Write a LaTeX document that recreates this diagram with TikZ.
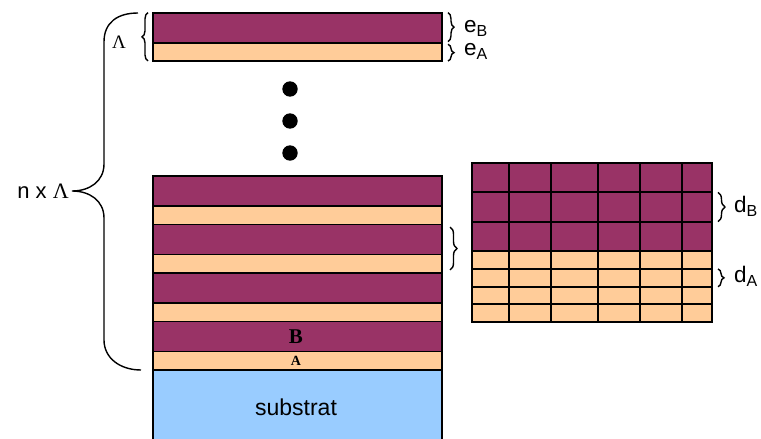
\documentclass[tikz,border=0pt]{standalone}
\usepackage{fontspec}
\setmainfont{Liberation Sans}
\newfontfamily\serifgr{Liberation Serif}
\usetikzlibrary{decorations.pathreplacing}
\definecolor{layerB}{HTML}{993366}
\definecolor{layerA}{HTML}{FFCC99}
\definecolor{substr}{HTML}{99CCFF}
\begin{document}
\begin{tikzpicture}[x=1pt,y=-1pt,
  layB/.style={fill=layerB,draw=black,line width=1.7pt},
  layA/.style={fill=layerA,draw=black,line width=1.7pt},
  gridline/.style={draw=black,line width=1.7pt},
  bracedeco/.style={decorate,decoration={brace,amplitude=#1},line width=1.4pt},
  lbl/.style={inner sep=0pt,font=\fontsize{22.5}{26}\selectfont},
  dotnode/.style={circle,fill=black,inner sep=0pt,minimum size=15.4pt},
]
\useasboundingbox (0,0) rectangle (761,439);

% substrate
\fill[substr] (153,370) rectangle (442,445);
\draw[line width=1.7pt] (153,445) -- (153,370) -- (442,370) -- (442,445);
\node[inner sep=0pt,anchor=base,font=\fontsize{23}{27}\selectfont] (substrat) at (296,415) {substrat};

% top period
\draw[layB] (153,12.7) rectangle (442,43.3);
\draw[layA] (153,43.3) rectangle (442,61);

% main stack
\foreach \i in {0,1,2,3}{
  \pgfmathsetmacro\ya{176+48.5*\i}
  \draw[layB] (153,\ya) rectangle (442,\ya+30);
  \draw[layA] (153,\ya+30) rectangle (442,\ya+48.5);
}
\node[inner sep=0pt,font=\serifgr\bfseries\fontsize{21}{24}\selectfont] (labB) at (296,336.5) {B};
\node[inner sep=0pt,font=\serifgr\bfseries\fontsize{14}{16}\selectfont] (labA) at (296,361.3) {A};

% dots
\node[dotnode] (dot1) at (290,89) {};
\node[dotnode] (dot2) at (290,121) {};
\node[dotnode] (dot3) at (290,153) {};

% grid
\fill[layerB] (472.3,162.7) rectangle (711.7,250.7);
\fill[layerA] (472.3,250.7) rectangle (711.7,321.7);
\foreach \x in {509,551,597.7,640,682}
  \draw[gridline] (\x,162.7) -- (\x,321.7);
\foreach \y in {192.3,221.7,250.7,269,286.7,304}
  \draw[gridline] (472.3,\y) -- (711.7,\y);
\draw[gridline] (472.3,162.7) rectangle (711.7,321.7);

% small braces
\coordinate (lamBot) at (148,61);
\coordinate (lamTop) at (148,12.7);
\draw[bracedeco=6pt] (lamBot) -- (lamTop);
\node[inner sep=0pt,font=\serifgr\fontsize{19}{21}\selectfont] (lamlbl) at (119,42) {Λ};

\coordinate (eBt) at (448,12.7);
\coordinate (eBb) at (448,41.7);
\coordinate (eAt) at (448,44.3);
\coordinate (eAb) at (448,61);
\draw[bracedeco=6pt] (eBt) -- (eBb);
\draw[bracedeco=6pt] (eAt) -- (eAb);
\node[lbl,anchor=base west] (eB) at (464,32) {e\raisebox{-4pt}{\fontsize{16}{18}\selectfont B}};
\node[lbl,anchor=base west] (eA) at (464,55) {e\raisebox{-4pt}{\fontsize{16}{18}\selectfont A}};

\coordinate (mt) at (450,227);
\coordinate (mb) at (450,270);
\draw[bracedeco=7pt] (mt) -- (mb);

\coordinate (dBt) at (718,192.3);
\coordinate (dBb) at (718,221.7);
\coordinate (dAt) at (718,269);
\coordinate (dAb) at (718,286.7);
\draw[bracedeco=7pt] (dBt) -- (dBb);
\draw[bracedeco=6pt] (dAt) -- (dAb);
\node[lbl,anchor=base west] (dB) at (734,212) {d\raisebox{-4pt}{\fontsize{16}{18}\selectfont B}};
\node[lbl,anchor=base west] (dA) at (734,282) {d\raisebox{-4pt}{\fontsize{16}{18}\selectfont A}};

% big brace
\coordinate (bbTop) at (138,13);
\coordinate (bbTip) at (72,191);
\coordinate (bbBot) at (141,370);
\draw[line width=1.4pt] (bbTop) .. controls (118,13) and (104,22) .. (104,42)
  -- (104,164) .. controls (104,181) and (90,191) .. (bbTip)
  .. controls (90,191) and (104,201) .. (104,218)
  -- (104,340) .. controls (104,358) and (120,370) .. (bbBot);
\node[inner sep=0pt,anchor=base east,font=\fontsize{22}{26}\selectfont] (nlam) at (69,198) {n x {\serifgr Λ}};
\end{tikzpicture}
\end{document}
